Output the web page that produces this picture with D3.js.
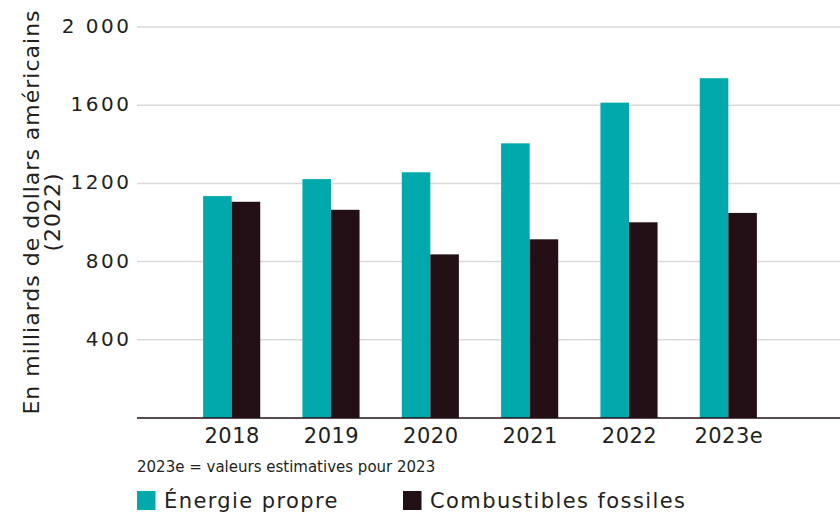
<!DOCTYPE html>
<html><head><meta charset="utf-8">
<script src="https://cdn.jsdelivr.net/npm/d3@7"></script>
<style>body{margin:0;background:#fff}svg{display:block}text{font-family:"DejaVu Sans",sans-serif}</style>
</head><body><svg id="c" width="840" height="513"></svg>
<script>
const categories = ["2018","2019","2020","2021","2022","2023e"];
const cleanEnergy = [1135,1222,1257,1405,1613,1738];
const fossilFuels = [1106,1065,837,914,1001,1049];
const yTicks = [400,800,1200,1600,2000];
const seriesNames = ["Énergie propre","Combustibles fossiles"];
const colors = ["#02a9ac","#231016"];

const svg = d3.select("#c");
const y = d3.scaleLinear().domain([0,2000]).range([418,27]);
const x = d3.scaleBand().domain(categories).range([182,778]).paddingInner(0.425).paddingOuter(0.2125);
const xs = d3.scaleBand().domain([0,1]).range([0,x.bandwidth()]);

// gridlines
svg.append("g").selectAll("line").data(yTicks).join("line")
  .attr("x1",137).attr("x2",840).attr("y1",d=>y(d)).attr("y2",d=>y(d))
  .attr("stroke","#d9d9d9").attr("stroke-width",1.5);

const fmt = d => d===2000 ? "2\u00a0000" : String(d);
svg.append("g").selectAll("text").data(yTicks).join("text")
  .attr("x",131.5).attr("y",d=>y(d)-1).attr("dy","0.35em").attr("text-anchor","end")
  .attr("font-size",20).attr("letter-spacing",2.5).attr("fill","#231f20").text(fmt);

// bars
const data = categories.map((c,i)=>({c, v:[cleanEnergy[i],fossilFuels[i]]}));
const g = svg.append("g").selectAll("g").data(data).join("g").attr("transform",d=>`translate(${x(d.c)},0)`);
g.selectAll("rect").data(d=>d.v.map((v,k)=>({v,k}))).join("rect")
  .attr("x",d=>xs(d.k)).attr("width",xs.bandwidth())
  .attr("y",d=>y(d.v)).attr("height",d=>y(0)-y(d.v)).attr("fill",d=>colors[d.k]);

// baseline
svg.append("line").attr("x1",137).attr("x2",840).attr("y1",y(0)).attr("y2",y(0))
  .attr("stroke","#231016").attr("stroke-width",1.5);

// x labels
svg.append("g").selectAll("text").data(categories).join("text")
  .attr("x",d=>x(d)+x.bandwidth()/2+0.5).attr("y",443).attr("text-anchor","middle")
  .attr("font-size",21).attr("letter-spacing",0.5).attr("fill","#231f20").text(d=>d);

// y title
const t = svg.append("text").attr("transform","translate(39,212) rotate(-90)")
  .attr("text-anchor","middle").attr("font-size",22).attr("letter-spacing",1).attr("fill","#231f20");
t.append("tspan").attr("x",0).attr("y",0).text("En milliards de dollars américains");
t.append("tspan").attr("x",0).attr("y",21).text("(2022)");

// footnote
svg.append("text").attr("x",137).attr("y",472).attr("font-size",15).attr("fill","#231f20")
  .text("2023e = valeurs estimatives pour 2023");

// legend
const legX = [137,403];
const lg = svg.append("g").selectAll("g").data(seriesNames).join("g").attr("transform",(d,i)=>`translate(${legX[i]},0)`);
lg.append("rect").attr("x",0).attr("y",491).attr("width",18.5).attr("height",19).attr("fill",(d,i)=>colors[i]);
lg.append("text").attr("x",27).attr("y",508).attr("font-size",21).attr("letter-spacing",1.4).attr("fill","#231f20").text(d=>d);
</script></body></html>
